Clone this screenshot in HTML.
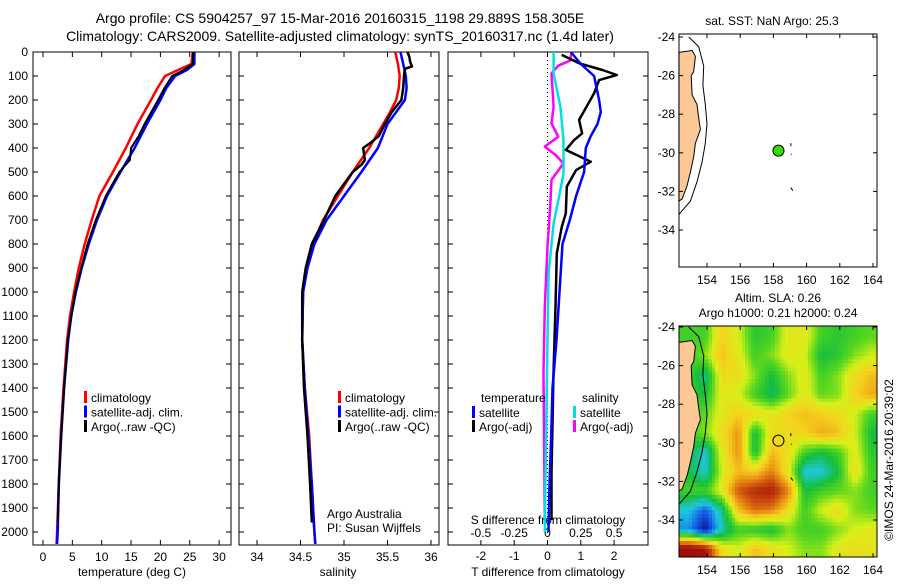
<!DOCTYPE html>
<html><head><meta charset="utf-8"><style>
body{margin:0;background:#fff;width:900px;height:580px;overflow:hidden}
svg text{font-family:"Liberation Sans",sans-serif;fill:#000}
</style></head><body>
<svg id="c" width="900" height="580" xmlns="http://www.w3.org/2000/svg">
<defs>
<clipPath id="mapclip"><rect x="679" y="326" width="198" height="231"/></clipPath>
</defs>
<text x="340" y="23" font-size="14" text-anchor="middle">Argo profile: CS 5904257_97 15-Mar-2016 20160315_1198 29.889S 158.305E</text>
<text x="340" y="41" font-size="14" text-anchor="middle">Climatology: CARS2009. Satellite-adjusted climatology: synTS_20160317.nc (1.4d later)</text>
<g id="g"></g>
</svg>
<script>
// ---- data ----
const tClimDepth=[0,50,75,100,150,200,300,400,500,600,700,800,900,1000,1100,1200,1400,1600,1800,2000,2050];
const tClim=[25.5,25.3,23,20.8,19.5,18.4,16.1,14.1,11.9,9.6,8.3,7.1,6.1,5.3,4.6,4.1,3.5,3.0,2.7,2.4,2.3];
const tSat=[25.8,25.8,24.5,22.5,21,20,17.7,15.6,13.2,10.9,9.2,7.8,6.6,5.6,4.8,4.3,3.6,3.1,2.7,2.5,2.4];
const tArgoDepth=[0,50,75,100,150,200,300,350,400,450,500,600,700,800,900,1000,1200,1400,1600,1800,1960];
const tArgo=[25.6,25.5,24,22,20.7,19.6,17.3,16.3,15,14.8,13,10.7,9,7.6,6.5,5.5,4.2,3.6,3.1,2.7,2.5];
const sDepth=[0,50,100,150,200,250,300,400,500,600,700,800,900,1000,1200,1400,1600,1800,2000,2050];
const sClim=[35.59,35.62,35.64,35.63,35.6,35.53,35.45,35.29,35.1,34.93,34.76,34.64,34.57,34.53,34.52,34.55,34.6,34.63,34.66,34.67];
const sSat=[35.65,35.68,35.71,35.72,35.7,35.6,35.5,35.39,35.2,35.0,34.8,34.66,34.58,34.53,34.52,34.55,34.59,34.63,34.66,34.67];
const sArgoDepth=[0,20,40,60,70,100,150,200,250,300,350,380,400,450,470,500,550,600,700,800,900,1000,1200,1400,1600,1800,1960];
const sArgo=[35.73,35.75,35.76,35.78,35.7,35.69,35.68,35.66,35.55,35.47,35.4,35.3,35.22,35.24,35.2,35.1,35.0,34.9,34.77,34.63,34.56,34.52,34.52,34.54,34.58,34.61,34.63];
const dtSatDepth=[0,50,100,200,250,300,350,400,500,600,700,800,1000,1200,1400,1600,1800,2000];
const dtSat=[0.7,1.0,1.4,1.55,1.6,1.5,1.3,1.15,1.1,0.86,0.67,0.45,0.36,0.27,0.15,0.11,0.06,0.03];
const dtArgoDepth=[12,47,75,96,117,172,228,283,339,367,408,457,492,561,672,728,839,1061,1338,1755,1950];
const dtArgo=[0.43,0.95,1.65,2.08,1.55,1.4,1.17,0.95,1.04,0.8,0.55,1.3,0.86,0.58,0.55,0.43,0.28,0.24,0.18,0.12,0.12];
const dsSatDepth=[0,89,228,367,506,575,714,922,1200,1894,2000];
const dsSat=[0.046,0.046,0.097,0.12,0.12,0.097,0.046,0.008,0.0,-0.018,-0.02];
const dsArgoDepth=[0,36,57,89,228,297,353,394,429,464,533,644,811,1061,1338,1950];
const dsArgo=[0.18,0.17,0.08,0.03,0.046,0.03,0.08,-0.02,0.06,0.12,0.03,0.02,0.0,-0.02,-0.03,-0.02];
const depthTicks=[0,100,200,300,400,500,600,700,800,900,1000,1100,1200,1300,1400,1500,1600,1700,1800,1900,2000];
const tTicks=[0,5,10,15,20,25,30];
const sTicks=[34,34.5,35,35.5,36];
const dtTicks=[-2,-1,0,1,2];
const dsTicks=[-0.5,-0.25,0,0.25,0.5];
const dsTickLabels=["-0.5","-0.25","0","0.25","0.5"];
const lonTicks=[154,156,158,160,162,164];
const latTicks=[-24,-26,-28,-30,-32,-34];
const argoLon=158.305, argoLat=-29.889;
const coastLon=[152.31,153.1,153.3,153.2,153.05,153.1,153.4,153.5,153.6,153.3,153.2,153.0,152.8,152.5,152.31];
const coastLat=[-24.8,-24.7,-25.0,-25.8,-26.0,-27.0,-27.5,-28.2,-28.8,-29.5,-30.2,-31.0,-31.7,-32.4,-32.5];
const isoLon=[152.9,153.5,153.8,153.75,153.9,154.0,153.9,153.7,153.4,153.0,152.3];
const isoLat=[-24.0,-24.5,-25.5,-26.5,-27.5,-28.5,-29.5,-30.5,-31.5,-32.5,-33.2];
const slaLon=[152.9,153.9,154.9,155.9,156.9,157.9,158.9,159.9,160.9,161.9,162.9,163.9];
const slaLat=[-24.5,-25.5,-26.5,-27.5,-28.5,-29.5,-30.5,-31.5,-32.5,-33.5,-34.5,-35.5];
const sla=[
[-0.2,-0.2,0.15,0.0,-0.25,-0.2,0.05,0.05,-0.2,-0.25,-0.2,-0.15],
[-0.2,-0.1,0.2,0.05,-0.2,-0.1,0.05,0.0,-0.3,-0.25,-0.1,0.0],
[-0.2,-0.4,0.1,0.1,-0.1,-0.3,-0.1,0.05,-0.2,-0.1,0.1,0.2],
[-0.2,-0.3,0.05,0.0,-0.2,-0.35,-0.15,0.05,-0.15,-0.1,0.15,0.25],
[-0.2,-0.15,0.05,0.15,0.1,0.05,0.15,0.2,0.15,0.1,0.0,-0.2],
[-0.2,-0.1,0.1,0.3,-0.3,0.1,0.1,0.15,0.25,0.2,0.0,-0.3],
[-0.3,-0.5,0.05,0.3,-0.3,0.2,0.1,-0.2,-0.3,-0.2,0.05,-0.25],
[-0.3,-0.5,0.0,0.2,0.15,0.35,0.05,-0.5,-0.5,-0.3,0.1,-0.2],
[-0.2,-0.2,0.05,0.45,0.6,0.65,0.35,-0.3,-0.2,-0.15,-0.1,-0.2],
[-0.5,-0.7,-0.4,0.2,0.4,0.35,0.1,-0.2,0.0,0.1,-0.1,-0.15],
[-0.6,-0.9,-0.45,-0.2,-0.25,-0.3,-0.1,-0.2,-0.2,-0.1,0.0,0.05],
[0.8,0.7,0.1,0.0,0.2,0.1,0.0,-0.1,-0.1,0.05,0.1,0.05]];

// ---- scales ----
const NS="http://www.w3.org/2000/svg";
const G=document.getElementById('g');
const yD=d=>52+d*0.24;
const xT=t=>43+t*5.87;
const xS=s=>257+(s-34)*87;
const xDT=v=>547.5+v*33.3;
const xDS=v=>547.5+v*133.2;
const lonX=l=>707+(l-154)*16.6;
const latY1=l=>37+(-24-l)*19.3;
const latY2=l=>327+(-24-l)*19.3;
function mk(tag,attrs,parent){const e=document.createElementNS(NS,tag);for(const k in attrs)e.setAttribute(k,attrs[k]);(parent||G).appendChild(e);return e;}
function txt(x,y,s,size,anchor,extra){const e=mk('text',Object.assign({x:x,y:y,'font-size':size||12,'text-anchor':anchor||'middle'},extra||{}));e.textContent=s;return e;}
function line(xs,ys,xf,yf,col,w,name){
  let d='';for(let i=0;i<xs.length;i++)d+=(i?'L':'M')+xf(xs[i]).toFixed(1)+' '+yf(ys[i]).toFixed(1);
  const p=mk('path',{d:d,fill:'none',stroke:col,'stroke-width':w,'stroke-linejoin':'round'});
  
  
  return p;}
function frame(x0,x1,y0,y1,name){const r=mk('rect',{x:x0,y:y0,width:x1-x0,height:y1-y0,fill:'none',stroke:'#000','stroke-width':1});
  
  }

// ---- profile panels ----
const panels=[[33,231],[239,439],[448,648]];
panels.forEach((p,i)=>{
  frame(p[0],p[1],52,545,'profile-panel-'+(i+1));
  depthTicks.forEach(d=>{mk('line',{x1:p[0],x2:p[0]+5,y1:yD(d),y2:yD(d),stroke:'#000'});mk('line',{x1:p[1],x2:p[1]-5,y1:yD(d),y2:yD(d),stroke:'#000'});});
});
depthTicks.forEach(d=>{const t=txt(28,yD(d)+4,String(d),12,'end');
  
  });
tTicks.forEach(v=>{const x=xT(v);mk('line',{x1:x,x2:x,y1:545,y2:540,stroke:'#000'});mk('line',{x1:x,x2:x,y1:52,y2:57,stroke:'#000'});
  const t=txt(x,561,String(v));
  
  });
sTicks.forEach(v=>{const x=xS(v);mk('line',{x1:x,x2:x,y1:545,y2:540,stroke:'#000'});mk('line',{x1:x,x2:x,y1:52,y2:57,stroke:'#000'});
  const t=txt(x,561,String(v));
  
  });
dtTicks.forEach(v=>{const x=xDT(v);mk('line',{x1:x,x2:x,y1:545,y2:540,stroke:'#000'});mk('line',{x1:x,x2:x,y1:52,y2:57,stroke:'#000'});
  const t=txt(x,560,String(v));
  
  });
dsTicks.forEach((v,i)=>{const t=txt(xDS(v),537,dsTickLabels[i]);
  
  });
let a=txt(132,576,'temperature (deg C)');
a=txt(338,576,'salinity');
a=txt(548,576,'T difference from climatology');
a=txt(548,524,'S difference from climatology');
mk('line',{x1:xDT(0),x2:xDT(0),y1:52,y2:545,stroke:'#000','stroke-dasharray':'1,3'});

line(tClim,tClimDepth,xT,yD,'#ff0000',2.5,'temp-climatology-line');
line(tSat,tClimDepth,xT,yD,'#0000ff',2.5,'temp-satellite-line');
line(tArgo,tArgoDepth,xT,yD,'#000',2,'temp-argo-line');
line(sClim,sDepth,xS,yD,'#ff0000',2.5,'sal-climatology-line');
line(sSat,sDepth,xS,yD,'#0000ff',2.5,'sal-satellite-line');
line(sArgo,sArgoDepth,xS,yD,'#000',2.5,'sal-argo-line');
line(dsArgo,dsArgoDepth,xDS,yD,'#ff00ff',2.5,'s-diff-argo-line');
line(dsSat,dsSatDepth,xDS,yD,'#00e0e0',2.5,'s-diff-satellite-line');
line(dtArgo,dtArgoDepth,xDT,yD,'#000',2.5,'t-diff-argo-line');
line(dtSat,dtSatDepth,xDT,yD,'#0000ff',2.5,'t-diff-satellite-line');

function leg(x,y,col,label,name){mk('rect',{x:x,y:y-6,width:3,height:12,fill:col});const t=txt(x+7,y+5,label,12,'start');
  
  }
[[84,'#ff0000','climatology'],[84,'#0000ff','satellite-adj. clim.'],[84,'#000','Argo(..raw -QC)']].forEach((r,i)=>leg(r[0],397+i*14.5,r[1],r[2],'legend-entry-temp'));
[[338,'#ff0000','climatology'],[338,'#0000ff','satellite-adj. clim.'],[338,'#000','Argo(..raw -QC)']].forEach((r,i)=>leg(r[0],397+i*14.5,r[1],r[2],'legend-entry-sal'));
a=txt(481,402,'temperature',12,'start');
a=txt(582,402,'salinity',12,'start');
leg(472,412,'#0000ff','satellite','legend-entry-t-sat');
leg(472,426,'#000','Argo(-adj)','legend-entry-t-argo');
leg(573,412,'#00e0e0','satellite','legend-entry-s-sat');
leg(573,426,'#ff00ff','Argo(-adj)','legend-entry-s-argo');
a=txt(327,518,'Argo Australia',12,'start');
a=txt(327,532,'PI: Susan Wijffels',12,'start');

// ---- maps ----
function colmap(v){
  const st=[[-0.9,[10,20,140]],[-0.7,[20,90,230]],[-0.5,[30,200,225]],[-0.3,[20,190,60]],[-0.15,[90,215,30]],[0,[215,240,25]],[0.15,[245,210,30]],[0.3,[235,150,20]],[0.5,[200,70,15]],[0.7,[165,20,10]],[0.9,[140,10,10]]];
  if(v<=st[0][0])return 'rgb('+st[0][1]+')';
  for(let i=1;i<st.length;i++){if(v<=st[i][0]){const f=(v-st[i-1][0])/(st[i][0]-st[i-1][0]);const c=st[i-1][1].map((q,k)=>Math.round(q+(st[i][1][k]-q)*f));return 'rgb('+c+')';}}
  return 'rgb('+st[st.length-1][1]+')';}
function mapAxes(y0,y1,latY,name){
  frame(679,877,y0,y1,name);
  lonTicks.forEach(l=>{const x=lonX(l);mk('line',{x1:x,x2:x,y1:y0,y2:y0+4,stroke:'#000'});mk('line',{x1:x,x2:x,y1:y1,y2:y1-4,stroke:'#000'});
    const t=txt(x,y1+17,String(l));
    
    });
  latTicks.forEach(l=>{const y=latY(l);mk('line',{x1:679,x2:683,y1:y,y2:y,stroke:'#000'});mk('line',{x1:877,x2:873,y1:y,y2:y,stroke:'#000'});
    const t=txt(675,y+4,String(l),12,'end');
    
    });
}
function coast(latY,g){
  let d='';coastLon.forEach((l,i)=>{d+=(i?'L':'M')+lonX(l).toFixed(1)+' '+latY(coastLat[i]).toFixed(1);});
  const p=mk('path',{d:d+'Z',fill:'#fcc896',stroke:'#000','stroke-width':1},g);
  
  
  let d2='';isoLon.forEach((l,i)=>{d2+=(i?'L':'M')+lonX(l).toFixed(1)+' '+latY(isoLat[i]).toFixed(1);});
  const q=mk('path',{d:d2,fill:'none',stroke:'#000','stroke-width':1},g);
  
  
  mk('path',{d:'M'+lonX(159.05)+' '+latY(-29.5)+'l0 3 M'+lonX(159.08)+' '+latY(-30.05)+'l0 1 M'+lonX(159.05)+' '+latY(-31.8)+'l2 3',stroke:'#000','stroke-width':1},g);
}
a=txt(772,25,'sat. SST: NaN Argo: 25.3');
const m1=mk('g',{});
coast(latY1,m1);
mapAxes(34,267,latY1,'sst-map');
let dot=mk('circle',{cx:lonX(argoLon),cy:latY1(argoLat),r:5.5,fill:'#33e000',stroke:'#000','stroke-width':1});



a=txt(778,302,'Altim. SLA: 0.26');
a=txt(778,317,'Argo h1000: 0.21 h2000: 0.24');
const clipG=mk('g',{'clip-path':'url(#mapclip)'});
const hm=mk('g',{'shape-rendering':'crispEdges'},clipG);
// bilinear sampling of the grid for display
function sample(lon,lat){
  const nc=slaLon.length, nr=slaLat.length;
  let fc=(lon-slaLon[0])/(slaLon[1]-slaLon[0]); let fr=(lat-slaLat[0])/(slaLat[1]-slaLat[0]);
  fc=Math.max(0,Math.min(nc-1,fc)); fr=Math.max(0,Math.min(nr-1,fr));
  const c0=Math.min(nc-2,Math.floor(fc)), r0=Math.min(nr-2,Math.floor(fr));
  const u=fc-c0, v=fr-r0;
  return sla[r0][c0]*(1-u)*(1-v)+sla[r0][c0+1]*u*(1-v)+sla[r0+1][c0]*(1-u)*v+sla[r0+1][c0+1]*u*v;
}
const step=0.2;
for(let lat=-23.9;lat>-36.1;lat-=step){
  for(let lon=152.3;lon<164.4;lon+=step){
    const cell=mk('rect',{x:(lonX(lon)-0.1).toFixed(1),y:(latY2(lat)-0.1).toFixed(1),width:(step*16.6+0.6).toFixed(1),height:(step*19.3+0.6).toFixed(1),fill:colmap(sample(lon+step/2,lat-step/2))},hm);
    
    
  }
}
coast(latY2,clipG);
mapAxes(326,557,latY2,'sla-map');
dot=mk('circle',{cx:lonX(argoLon),cy:latY2(argoLat),r:5.5,fill:'none',stroke:'#000','stroke-width':1});


a=txt(0,0,'©IMOS 24-Mar-2016 20:39:02',12,'middle',{transform:'translate(893,460) rotate(-90)'});


</script>
</body></html>
